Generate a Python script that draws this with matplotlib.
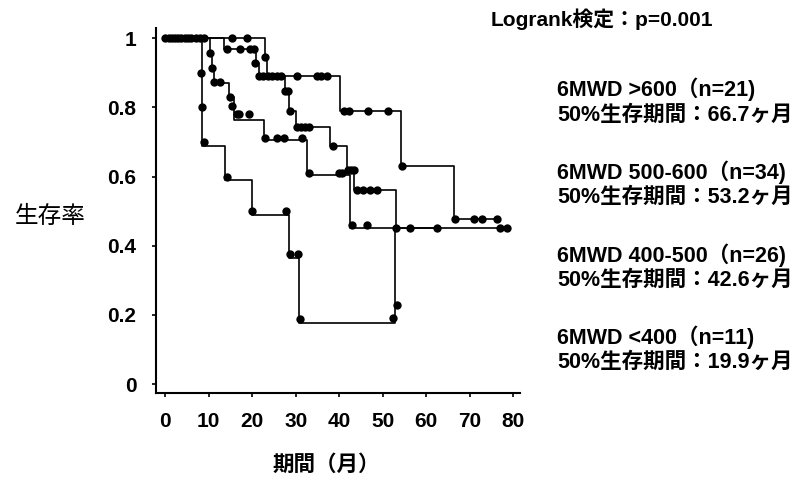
import matplotlib
matplotlib.use('Agg')
import matplotlib.pyplot as plt

plt.rcParams['font.family'] = ['Liberation Sans', 'Noto Sans CJK JP']

# 6MWD <400 (n=11)
t_lt400 = [0, 8.5, 13.8, 19.9, 28.4, 30.8, 52.3, 52.9]
s_lt400 = [1.0, 0.69, 0.59, 0.49, 0.364, 0.177, 0.177, 0.45]
mt_lt400 = [8.3, 8.5, 8.8, 14.1, 20.0, 27.7, 28.7, 30.5, 31.0, 52.3, 53.3]
ms_lt400 = [0.90, 0.80, 0.70, 0.60, 0.50, 0.50, 0.375, 0.375, 0.188, 0.19, 0.23]

# 6MWD 400-500 (n=26)
t_400 = [0, 10.2, 10.8, 11.2, 14.6, 15.7, 22.8, 32.6, 42.5, 62.6]
s_400 = [1.0, 0.955, 0.915, 0.872, 0.83, 0.765, 0.705, 0.605, 0.45, 0.45]
mt_400 = [0.0, 1.5, 3.0, 4.5, 10.3, 10.7, 11.3, 12.5, 15.0, 15.3, 16.5, 16.9, 19.2,
          23.0, 25.6, 27.2, 31.4, 33.0, 40.0, 40.6, 42.9, 46.5]
ms_400 = [1, 1, 1, 1, 0.957, 0.915, 0.874, 0.874, 0.83, 0.805, 0.78, 0.78, 0.78,
          0.713, 0.713, 0.713, 0.713, 0.61, 0.61, 0.61, 0.46, 0.46]

# 6MWD 500-600 (n=34)
t_500 = [0, 13.6, 20.9, 21.5, 27.5, 28.5, 30.0, 37.9, 41.8, 43.5, 53.0, 79.0]
s_500 = [1.0, 0.97, 0.93, 0.89, 0.848, 0.79, 0.745, 0.69, 0.62, 0.56, 0.45, 0.45]
mt_500 = [6.0, 7.0, 8.0, 9.0, 14.3, 17.2, 19.5, 20.3, 20.6, 21.6, 22.4, 23.6, 24.6, 25.6,
          26.6, 27.6, 28.3, 28.7, 30.3, 31.2, 32.1, 33.0, 38.5, 42.0, 42.8, 43.4,
          44.0, 45.5, 47.0, 48.7, 53.1, 56.3, 62.6, 76.9, 78.6]
ms_500 = [1, 1, 1, 1, 0.97, 0.97, 0.97, 0.97, 0.93, 0.89, 0.89, 0.89, 0.89, 0.89,
          0.89, 0.848, 0.848, 0.79, 0.745, 0.745, 0.745, 0.745, 0.69, 0.62, 0.62, 0.62,
          0.56, 0.56, 0.56, 0.56, 0.45, 0.45, 0.45, 0.45, 0.45]

# 6MWD >600 (n=21)
t_600 = [0, 23.0, 23.5, 40.3, 54.2, 66.4, 77.0]
s_600 = [1.0, 0.947, 0.89, 0.79, 0.63, 0.476, 0.476]
mt_600 = [0.8, 2.2, 3.7, 5.3, 15.3, 18.8, 23.0, 30.2, 34.8, 35.9, 37.2, 41.0, 42.3,
          46.6, 51.2, 54.4, 66.7, 71.0, 72.8, 76.2]
ms_600 = [1, 1, 1, 1, 1, 1, 0.947, 0.89, 0.89, 0.89, 0.89, 0.79, 0.79,
          0.79, 0.79, 0.63, 0.476, 0.476, 0.476, 0.476]

legend_lines = ['6MWD >600（n=21)', '50%生存期間：66.7ヶ月',
                '6MWD 500-600（n=34)', '50%生存期間：53.2ヶ月',
                '6MWD 400-500（n=26)', '50%生存期間：42.6ヶ月',
                '6MWD <400（n=11)', '50%生存期間：19.9ヶ月']
legend_y = [89, 115, 172, 197, 255, 280, 337, 362]

W, H = 794, 479
fig = plt.figure(figsize=(W / 100, H / 100), dpi=100)
ax = fig.add_axes([155.7 / W, 1 - 393 / H, (520 - 155.7) / W, (393 - 28) / H])

curves = [(t_lt400, s_lt400, mt_lt400, ms_lt400),
          (t_400, s_400, mt_400, ms_400),
          (t_500, s_500, mt_500, ms_500),
          (t_600, s_600, mt_600, ms_600)]
for t, s, mt, ms in curves:
    ax.plot(t, s, drawstyle='steps-post', color='black', lw=1.2)
    ax.plot(mt, ms, 'o', color='black', ms=6, mew=0)

ax.set_xlim(-2.2, 81.6)
ax.set_ylim(-0.026, 1.03)
ax.set_xticks(range(0, 81, 10))
ax.set_yticks([0, 0.2, 0.4, 0.6, 0.8, 1.0])
ax.set_yticklabels(['0', '0.2', '0.4', '0.6', '0.8', '1'])
for sp in ['top', 'right']:
    ax.spines[sp].set_visible(False)
for sp in ['left', 'bottom']:
    ax.spines[sp].set_linewidth(1.5)
ax.tick_params(axis='both', direction='out', length=3, width=1.2, labelsize=15, pad=11)
for lab in ax.get_xticklabels() + ax.get_yticklabels():
    lab.set_fontweight('bold')

fig.text(50 / W, 1 - 217 / H, '生存率', fontsize=17, ha='center', va='center')
fig.text(326 / W, 1 - 465 / H, '期間（月）', fontsize=15.5, ha='center', va='center',
         fontweight='bold')
fig.text(713 / W, 1 - 19 / H, 'Logrank検定：p=0.001', fontsize=15, ha='right',
         va='center', fontweight='bold')
for txt, y in zip(legend_lines, legend_y):
    fig.text(557 / W, 1 - y / H, txt, fontsize=15.5, ha='left', va='center',
             fontweight='bold')

fig.savefig('out.png', dpi=100)
